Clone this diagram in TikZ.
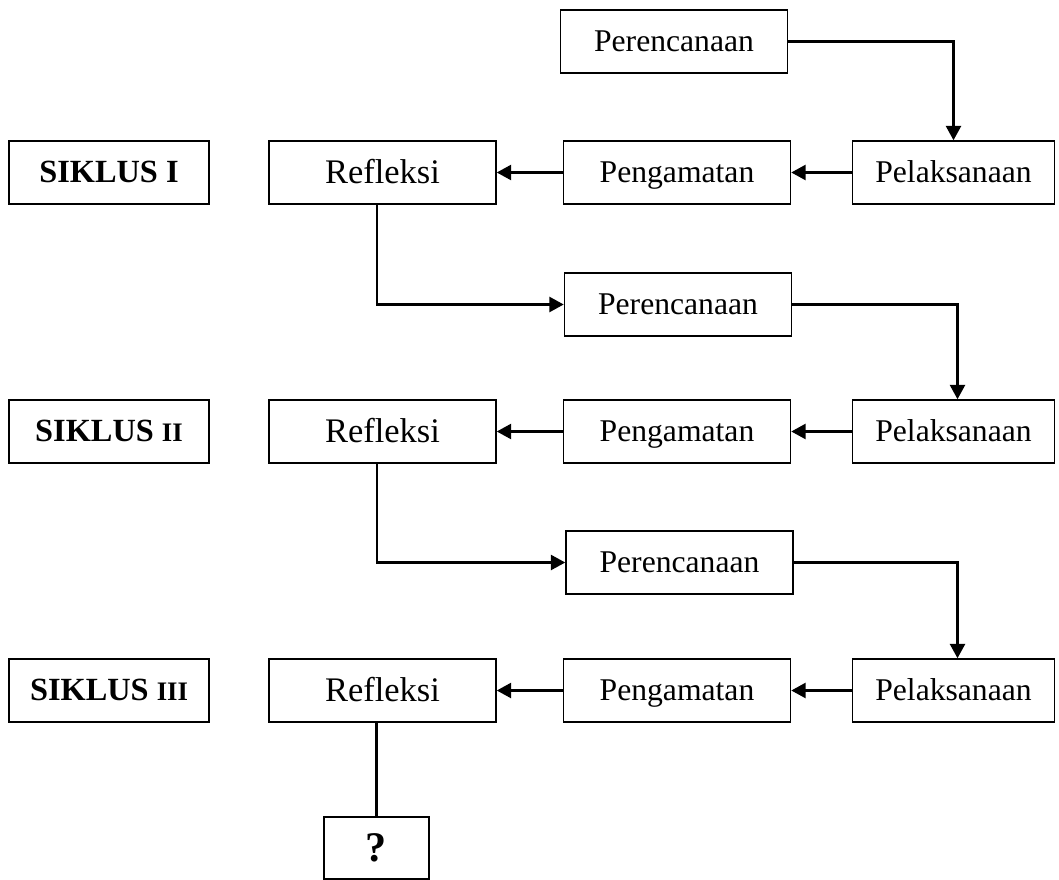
\documentclass[tikz,border=0pt]{standalone}
\usepackage{fontspec}
\setmainfont{Liberation Serif}
\usepackage{tikz}
\usetikzlibrary{arrows.meta}
\newcommand{\romsc}[1]{{\fontsize{19}{21}\selectfont #1}}

\begin{document}
\begin{tikzpicture}[x=0.025cm, y=-0.025cm, line width=1.1pt, font=\fontsize{22.5}{27}\selectfont]
  \tikzstyle{box}=[draw, rectangle, inner sep=0pt, minimum height=1.575cm, minimum width=5.675cm, text height=16pt, text depth=2pt, align=center]
  \tikzstyle{short box}=[box, minimum width=5.05cm]
  \tikzstyle{refl box}=[box, text height=18pt, font=\fontsize{24.5}{28}\selectfont]
  \tikzstyle{siklus}=[box, minimum width=5cm, font=\fontsize{23}{27}\selectfont\bfseries]
  \tikzstyle{flow}=[-{Triangle[length=0.36cm, width=0.38cm]}, line width=1.5pt]

  \useasboundingbox (0,0) rectangle (1059,880);

  % first planning step
  \node[box] (P-0) at (674,41.5) {Perencanaan};

  % the three cycles
  \foreach \name / \y in {1/172.5, 2/431.5, 3/690.5} {
    \node[refl box] (R-\name) at (382.5,\y) {Refleksi};
    \node[box] (G-\name) at (677,\y) {Pengamatan};
    \node[short box] (L-\name) at (953.5,\y) {Pelaksanaan};
  }
  \node[siklus] (S-1) at (109,172.5) {SIKLUS I};
  \node[siklus] (S-2) at (109,431.5) {SIKLUS \romsc{II}};
  \node[siklus] (S-3) at (109,690.5) {SIKLUS \romsc{III}};

  % planning between cycles
  \node[box] (P-1) at (678,304.5) {Perencanaan};
  \node[box] (P-2) at (679.5,562.5) {Perencanaan};

  % end of the last cycle
  \node[draw, rectangle, inner sep=0pt, minimum width=2.625cm, minimum height=1.55cm, font=\fontsize{30}{32}\selectfont\bfseries]
    (Q) at (376.5,848) {?};

  % Connect pelaksanaan -> pengamatan -> refleksi
  \foreach \name in {1,2,3} {
    \draw[flow] (L-\name) -- (G-\name);
    \draw[flow] (G-\name) -- (R-\name);
  }

  % Connect perencanaan -> pelaksanaan
  \draw[flow] (P-0.east) -| (L-1.north);
  \draw[flow] (P-1.east) -| ([xshift=0.1cm]L-2.north);
  \draw[flow] (P-2.east) -| ([xshift=0.1cm]L-3.north);

  % Connect refleksi -> next perencanaan
  \draw[flow] ([xshift=-0.14cm]R-1.south) |- (P-1.west);
  \draw[flow] ([xshift=-0.14cm]R-2.south) |- (P-2.west);
  \draw[line width=1.5pt] (R-3.south -| Q.north) -- (Q.north);
\end{tikzpicture}
\end{document}
